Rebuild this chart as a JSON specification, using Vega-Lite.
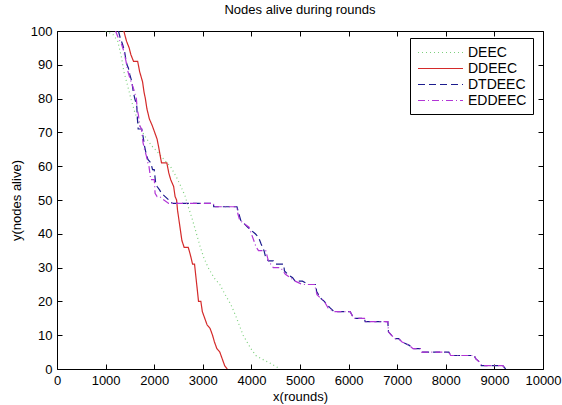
{
  "$schema": "https://vega.github.io/schema/vega-lite/v6.json",
  "autosize": {"type": "none"},
  "width": 486,
  "height": 338,
  "padding": {"left": 57, "top": 31, "right": 19, "bottom": 36},
  "background": "white",
  "title": {"text": "Nodes alive during rounds", "fontSize": 13, "fontWeight": "normal", "font": "Liberation Sans", "color": "black", "offset": 8},
  "config": {
    "view": {"stroke": null},
    "axis": {"grid": false, "domainColor": "black", "tickColor": "black", "labelColor": "black", "titleColor": "black", "labelFont": "Liberation Sans", "titleFont": "Liberation Sans", "labelFontSize": 13, "titleFontSize": 13, "titleFontWeight": "normal", "tickSize": -5, "labelPadding": 10}
  },
  "data": {"values": [
    {"s":"DEEC","x":1000,"y":100},{"s":"DEEC","x":1150,"y":99},{"s":"DEEC","x":1250,"y":97},{"s":"DEEC","x":1330,"y":92},{"s":"DEEC","x":1375,"y":88},{"s":"DEEC","x":1450,"y":84},{"s":"DEEC","x":1520,"y":80},{"s":"DEEC","x":1600,"y":76},{"s":"DEEC","x":1680,"y":73},{"s":"DEEC","x":1760,"y":70},{"s":"DEEC","x":1850,"y":68},{"s":"DEEC","x":1950,"y":66},{"s":"DEEC","x":2080,"y":64},{"s":"DEEC","x":2200,"y":62},{"s":"DEEC","x":2330,"y":60},{"s":"DEEC","x":2450,"y":57},{"s":"DEEC","x":2550,"y":54},{"s":"DEEC","x":2640,"y":51},{"s":"DEEC","x":2700,"y":48},{"s":"DEEC","x":2770,"y":45},{"s":"DEEC","x":2830,"y":42},{"s":"DEEC","x":2890,"y":39},{"s":"DEEC","x":2950,"y":36},{"s":"DEEC","x":3020,"y":33},{"s":"DEEC","x":3110,"y":30},{"s":"DEEC","x":3230,"y":27},{"s":"DEEC","x":3350,"y":25},{"s":"DEEC","x":3460,"y":22},{"s":"DEEC","x":3580,"y":19},{"s":"DEEC","x":3670,"y":16},{"s":"DEEC","x":3750,"y":13},{"s":"DEEC","x":3830,"y":10},{"s":"DEEC","x":3910,"y":8},{"s":"DEEC","x":3990,"y":6},{"s":"DEEC","x":4090,"y":4},{"s":"DEEC","x":4210,"y":3},{"s":"DEEC","x":4350,"y":2},{"s":"DEEC","x":4470,"y":1},{"s":"DEEC","x":4590,"y":0},
    {"s":"DDEEC","x":1375,"y":100},{"s":"DDEEC","x":1430,"y":97},{"s":"DDEEC","x":1485,"y":95},{"s":"DDEEC","x":1520,"y":93},{"s":"DDEEC","x":1575,"y":91},{"s":"DDEEC","x":1660,"y":91},{"s":"DDEEC","x":1700,"y":88},{"s":"DDEEC","x":1760,"y":85},{"s":"DDEEC","x":1790,"y":82},{"s":"DDEEC","x":1818,"y":80},{"s":"DDEEC","x":1850,"y":77},{"s":"DDEEC","x":1900,"y":74},{"s":"DDEEC","x":1960,"y":72},{"s":"DDEEC","x":2010,"y":70},{"s":"DDEEC","x":2060,"y":68},{"s":"DDEEC","x":2100,"y":65},{"s":"DDEEC","x":2150,"y":61},{"s":"DDEEC","x":2260,"y":61},{"s":"DDEEC","x":2300,"y":58},{"s":"DDEEC","x":2340,"y":56},{"s":"DDEEC","x":2400,"y":54},{"s":"DDEEC","x":2430,"y":51},{"s":"DDEEC","x":2461,"y":50},{"s":"DDEEC","x":2480,"y":47},{"s":"DDEEC","x":2510,"y":44},{"s":"DDEEC","x":2540,"y":41},{"s":"DDEEC","x":2570,"y":38},{"s":"DDEEC","x":2616,"y":36},{"s":"DDEEC","x":2700,"y":36},{"s":"DDEEC","x":2740,"y":34},{"s":"DDEEC","x":2790,"y":31},{"s":"DDEEC","x":2830,"y":31},{"s":"DDEEC","x":2860,"y":27},{"s":"DDEEC","x":2890,"y":23},{"s":"DDEEC","x":2912,"y":20},{"s":"DDEEC","x":2960,"y":20},{"s":"DDEEC","x":2990,"y":17},{"s":"DDEEC","x":3040,"y":15},{"s":"DDEEC","x":3090,"y":13},{"s":"DDEEC","x":3150,"y":12},{"s":"DDEEC","x":3200,"y":10},{"s":"DDEEC","x":3240,"y":8},{"s":"DDEEC","x":3290,"y":6},{"s":"DDEEC","x":3350,"y":5},{"s":"DDEEC","x":3400,"y":3},{"s":"DDEEC","x":3450,"y":1},{"s":"DDEEC","x":3503,"y":0},
    {"s":"DTDEEC","x":1264,"y":100},{"s":"DTDEEC","x":1300,"y":98},{"s":"DTDEEC","x":1350,"y":96},{"s":"DTDEEC","x":1390,"y":94},{"s":"DTDEEC","x":1412,"y":92},{"s":"DTDEEC","x":1440,"y":90},{"s":"DTDEEC","x":1470,"y":89},{"s":"DTDEEC","x":1500,"y":87},{"s":"DTDEEC","x":1540,"y":85},{"s":"DTDEEC","x":1570,"y":82},{"s":"DTDEEC","x":1600,"y":80},{"s":"DTDEEC","x":1640,"y":78},{"s":"DTDEEC","x":1655,"y":74},{"s":"DTDEEC","x":1670,"y":71},{"s":"DTDEEC","x":1744,"y":71},{"s":"DTDEEC","x":1780,"y":68},{"s":"DTDEEC","x":1800,"y":66},{"s":"DTDEEC","x":1830,"y":64},{"s":"DTDEEC","x":1870,"y":62},{"s":"DTDEEC","x":1930,"y":61},{"s":"DTDEEC","x":1966,"y":59},{"s":"DTDEEC","x":2000,"y":59},{"s":"DTDEEC","x":2030,"y":55},{"s":"DTDEEC","x":2060,"y":54},{"s":"DTDEEC","x":2110,"y":53},{"s":"DTDEEC","x":2150,"y":52},{"s":"DTDEEC","x":2225,"y":51},{"s":"DTDEEC","x":2300,"y":50},{"s":"DTDEEC","x":2372,"y":49},{"s":"DTDEEC","x":3220,"y":49},{"s":"DTDEEC","x":3225,"y":48},{"s":"DTDEEC","x":3703,"y":48},{"s":"DTDEEC","x":3740,"y":46},{"s":"DTDEEC","x":3780,"y":44},{"s":"DTDEEC","x":3850,"y":43},{"s":"DTDEEC","x":3920,"y":42},{"s":"DTDEEC","x":4000,"y":41},{"s":"DTDEEC","x":4080,"y":40},{"s":"DTDEEC","x":4146,"y":39},{"s":"DTDEEC","x":4200,"y":37},{"s":"DTDEEC","x":4260,"y":35},{"s":"DTDEEC","x":4294,"y":33},{"s":"DTDEEC","x":4350,"y":32},{"s":"DTDEEC","x":4450,"y":32},{"s":"DTDEEC","x":4500,"y":31},{"s":"DTDEEC","x":4664,"y":31},{"s":"DTDEEC","x":4680,"y":29},{"s":"DTDEEC","x":4750,"y":28},{"s":"DTDEEC","x":4848,"y":27},{"s":"DTDEEC","x":4900,"y":26},{"s":"DTDEEC","x":5050,"y":26},{"s":"DTDEEC","x":5181,"y":25},{"s":"DTDEEC","x":5329,"y":25},{"s":"DTDEEC","x":5340,"y":23},{"s":"DTDEEC","x":5420,"y":21},{"s":"DTDEEC","x":5500,"y":20},{"s":"DTDEEC","x":5560,"y":19},{"s":"DTDEEC","x":5625,"y":18},{"s":"DTDEEC","x":5700,"y":17},{"s":"DTDEEC","x":6031,"y":17},{"s":"DTDEEC","x":6105,"y":15},{"s":"DTDEEC","x":6327,"y":15},{"s":"DTDEEC","x":6340,"y":14},{"s":"DTDEEC","x":6807,"y":14},{"s":"DTDEEC","x":6820,"y":11},{"s":"DTDEEC","x":6881,"y":10},{"s":"DTDEEC","x":6950,"y":9},{"s":"DTDEEC","x":7029,"y":9},{"s":"DTDEEC","x":7100,"y":8},{"s":"DTDEEC","x":7250,"y":7},{"s":"DTDEEC","x":7324,"y":6},{"s":"DTDEEC","x":7472,"y":6},{"s":"DTDEEC","x":7500,"y":5},{"s":"DTDEEC","x":8063,"y":5},{"s":"DTDEEC","x":8100,"y":4},{"s":"DTDEEC","x":8581,"y":4},{"s":"DTDEEC","x":8620,"y":3},{"s":"DTDEEC","x":8700,"y":2},{"s":"DTDEEC","x":8729,"y":1},{"s":"DTDEEC","x":9172,"y":1},{"s":"DTDEEC","x":9231,"y":0},
    {"s":"EDDEEC","x":1205,"y":100},{"s":"EDDEEC","x":1260,"y":98},{"s":"EDDEEC","x":1330,"y":96},{"s":"EDDEEC","x":1375,"y":94},{"s":"EDDEEC","x":1420,"y":91},{"s":"EDDEEC","x":1460,"y":88},{"s":"EDDEEC","x":1500,"y":86},{"s":"EDDEEC","x":1550,"y":84},{"s":"EDDEEC","x":1596,"y":82},{"s":"EDDEEC","x":1633,"y":80},{"s":"EDDEEC","x":1650,"y":77},{"s":"EDDEEC","x":1677,"y":75},{"s":"EDDEEC","x":1700,"y":72},{"s":"EDDEEC","x":1740,"y":71},{"s":"EDDEEC","x":1770,"y":67},{"s":"EDDEEC","x":1800,"y":65},{"s":"EDDEEC","x":1840,"y":63},{"s":"EDDEEC","x":1870,"y":61},{"s":"EDDEEC","x":1892,"y":60},{"s":"EDDEEC","x":1920,"y":57},{"s":"EDDEEC","x":1929,"y":56},{"s":"EDDEEC","x":2003,"y":56},{"s":"EDDEEC","x":2018,"y":52},{"s":"EDDEEC","x":2060,"y":51},{"s":"EDDEEC","x":2114,"y":51},{"s":"EDDEEC","x":2200,"y":50},{"s":"EDDEEC","x":2298,"y":49},{"s":"EDDEEC","x":3220,"y":49},{"s":"EDDEEC","x":3225,"y":48},{"s":"EDDEEC","x":3703,"y":48},{"s":"EDDEEC","x":3720,"y":46},{"s":"EDDEEC","x":3760,"y":44},{"s":"EDDEEC","x":3850,"y":43},{"s":"EDDEEC","x":3950,"y":42},{"s":"EDDEEC","x":4000,"y":40},{"s":"EDDEEC","x":4050,"y":38},{"s":"EDDEEC","x":4100,"y":36},{"s":"EDDEEC","x":4146,"y":35},{"s":"EDDEEC","x":4294,"y":35},{"s":"EDDEEC","x":4350,"y":32},{"s":"EDDEEC","x":4450,"y":30},{"s":"EDDEEC","x":4600,"y":30},{"s":"EDDEEC","x":4700,"y":28},{"s":"EDDEEC","x":4800,"y":27},{"s":"EDDEEC","x":4900,"y":26},{"s":"EDDEEC","x":5050,"y":25},{"s":"EDDEEC","x":5300,"y":25},{"s":"EDDEEC","x":5350,"y":22},{"s":"EDDEEC","x":5420,"y":21},{"s":"EDDEEC","x":5500,"y":20},{"s":"EDDEEC","x":5580,"y":18},{"s":"EDDEEC","x":5700,"y":17},{"s":"EDDEEC","x":6031,"y":17},{"s":"EDDEEC","x":6105,"y":15},{"s":"EDDEEC","x":6327,"y":15},{"s":"EDDEEC","x":6340,"y":14},{"s":"EDDEEC","x":6807,"y":14},{"s":"EDDEEC","x":6820,"y":11},{"s":"EDDEEC","x":6881,"y":10},{"s":"EDDEEC","x":6950,"y":9},{"s":"EDDEEC","x":7029,"y":9},{"s":"EDDEEC","x":7100,"y":8},{"s":"EDDEEC","x":7250,"y":7},{"s":"EDDEEC","x":7324,"y":6},{"s":"EDDEEC","x":7472,"y":6},{"s":"EDDEEC","x":7500,"y":5},{"s":"EDDEEC","x":8063,"y":5},{"s":"EDDEEC","x":8100,"y":4},{"s":"EDDEEC","x":8581,"y":4},{"s":"EDDEEC","x":8620,"y":3},{"s":"EDDEEC","x":8700,"y":2},{"s":"EDDEEC","x":8740,"y":1},{"s":"EDDEEC","x":9172,"y":1},{"s":"EDDEEC","x":9231,"y":0}
  ]},
  "layer": [
    {
      "mark": {"type": "line", "strokeWidth": 1.2, "clip": true},
      "encoding": {
        "x": {"field": "x", "type": "quantitative", "scale": {"domain": [0, 10000], "nice": false}, "axis": {"title": "x(rounds)", "format": "d", "values": [0,1000,2000,3000,4000,5000,6000,7000,8000,9000,10000], "titlePadding": 3, "labelFlush": false}},
        "y": {"field": "y", "type": "quantitative", "scale": {"domain": [0, 100], "nice": false}, "axis": {"title": "y(nodes alive)", "format": "d", "values": [0,10,20,30,40,50,60,70,80,90,100], "titlePadding": 7, "labelFlush": false}},
        "color": {"field": "s", "type": "nominal", "scale": {"domain": ["DEEC", "DDEEC", "DTDEEC", "EDDEEC"], "range": ["#7ccf7c", "#d42a2a", "#1c1c8e", "#b236d6"]},
          "legend": {"title": null, "orient": "none", "legendX": 353, "legendY": 7, "strokeColor": "black", "fillColor": "white", "padding": 6, "symbolType": "M-3,0L3,0", "symbolSize": 225, "symbolStrokeWidth": 1.2, "symbolOffset": 16, "labelOffset": 19, "labelFontSize": 14, "labelFont": "Liberation Sans", "labelColor": "black", "rowPadding": 0, "cornerRadius": 0}},
        "strokeDash": {"field": "s", "type": "nominal", "scale": {"domain": ["DEEC", "DDEEC", "DTDEEC", "EDDEEC"], "range": [[1, 3], [1, 0], [7, 4], [7, 3, 1, 3]]},
          "legend": {"title": null, "orient": "none", "legendX": 353, "legendY": 7, "strokeColor": "black", "fillColor": "white", "padding": 6, "symbolType": "M-3,0L3,0", "symbolSize": 225, "symbolStrokeWidth": 1.2, "symbolOffset": 16, "labelOffset": 19, "labelFontSize": 14, "labelFont": "Liberation Sans", "labelColor": "black", "rowPadding": 0, "cornerRadius": 0}}
      }
    },
    {
      "mark": {"type": "line", "strokeOpacity": 0},
      "encoding": {
        "x": {"field": "x", "type": "quantitative", "scale": {"domain": [0, 10000], "nice": false}, "axis": {"orient": "top", "labels": false, "title": null, "values": [0,1000,2000,3000,4000,5000,6000,7000,8000,9000,10000]}},
        "y": {"field": "y", "type": "quantitative", "scale": {"domain": [0, 100], "nice": false}, "axis": {"orient": "right", "labels": false, "title": null, "values": [0,10,20,30,40,50,60,70,80,90,100]}},
        "detail": {"field": "s"}
      }
    }
  ],
  "resolve": {"axis": {"x": "independent", "y": "independent"}}
}
